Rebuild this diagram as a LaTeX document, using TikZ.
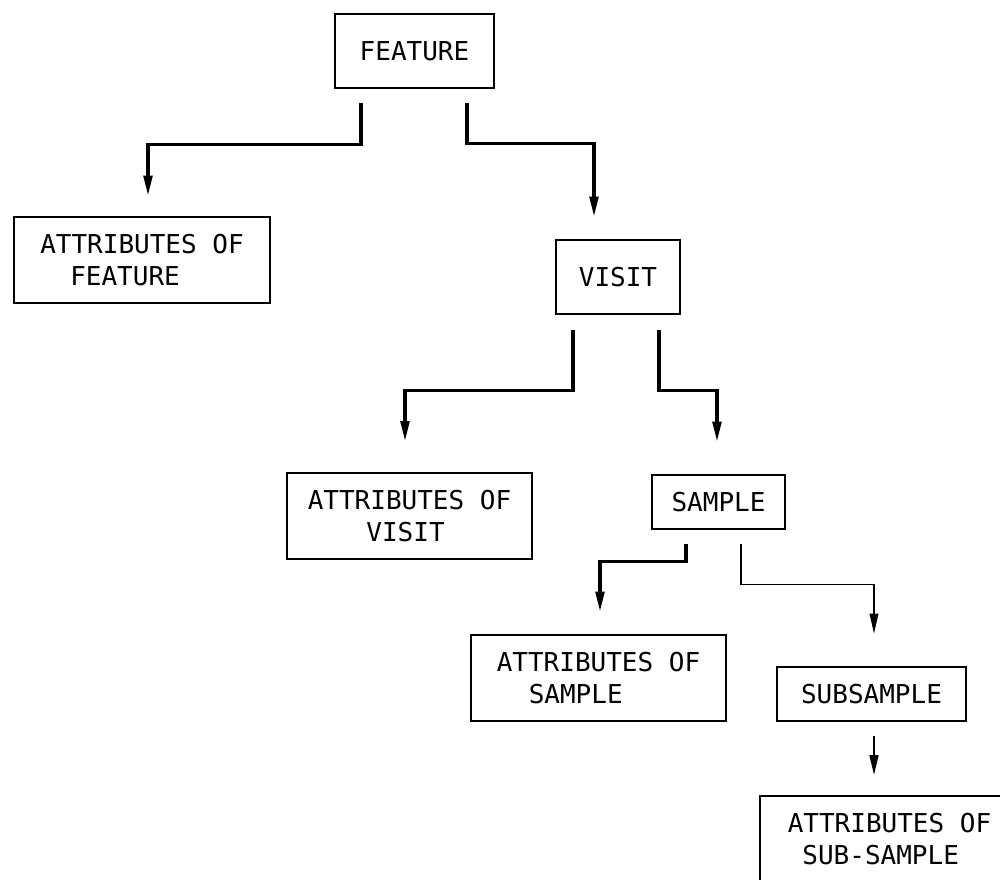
\documentclass[tikz,border=0pt]{standalone}
\usepackage{fontspec}
\setmonofont{DejaVu Sans Mono}
\usetikzlibrary{calc,arrows.meta}
\begin{document}
\begin{tikzpicture}[x=0.75pt,y=-0.75pt,
  box/.style={draw, line width=2pt, inner sep=0pt, align=left,
    font=\ttfamily\fontsize{19.5}{24}\selectfont},
  thinbox/.style={box, line width=1.2pt},
  conn/.style={line width=2.4pt, -{Triangle[length=15pt,width=6.5pt]}},
  thinconn/.style={conn, line width=1.2pt},
  midconn/.style={conn, line width=1.8pt}]
\clip (0,0) rectangle (1000,880);
\fill[white] (0,0) rectangle (1000,880);

\node[box, minimum width=119.25pt, minimum height=55.5pt] (feature) at (414.5,51) {FEATURE};
\node[box, minimum width=192pt, minimum height=64.5pt] (attrf) at (142,260)
  {ATTRIBUTES OF\\\hspace*{22.5pt}FEATURE};
\node[box, minimum width=93pt, minimum height=55.5pt] (visit) at (618,277) {VISIT};
\node[thinbox, minimum width=183.75pt, minimum height=64.5pt] (attrv) at (409.5,516)
  {ATTRIBUTES OF\\\hspace*{44pt}VISIT};
\node[box, minimum width=99.75pt, minimum height=40.5pt] (sample) at (718.5,502) {SAMPLE};
\node[box, minimum width=191.25pt, minimum height=64.5pt] (attrs) at (598.5,678)
  {ATTRIBUTES OF\\\hspace*{24pt}SAMPLE};
\node[box, minimum width=141.75pt, minimum height=40.5pt] (subsample) at (871.5,694) {SUBSAMPLE};
\node[thinbox, minimum width=194pt, minimum height=64.5pt] (attrss) at (889.5,839)
  {ATTRIBUTES OF\\\hspace*{11pt}SUB-SAMPLE};

\draw[conn] ($(feature.south)+(-53.5,14)$) -- ++(0,41) -| ($(attrf.north)+(6,-20)$);
\draw[conn] ($(feature.south)+(52.5,14)$) -- ++(0,40) -| ($(visit.north)+(-24,-22)$);
\draw[conn] ($(visit.south)+(-45,15)$) -- ++(0,60) -| ($(attrv.north)+(-4.5,-31)$);
\draw[conn] ($(visit.south)+(41,15)$) -- ++(0,60) -| ($(sample.north)+(-1.5,-32)$);
\draw[conn] ($(sample.south)+(-32.5,14)$) -- ++(0,17) -| ($(attrs.north)+(1.5,-22)$);
\draw[thinconn] ($(sample.south)+(22.5,14)$) -- ++(0,40) -| ($(subsample.north)+(2.5,-32)$);
\draw[midconn] ($(subsample.south)+(2.5,14)$) -- ($(attrss.north)+(-15.5,-20)$);
\end{tikzpicture}
\end{document}
